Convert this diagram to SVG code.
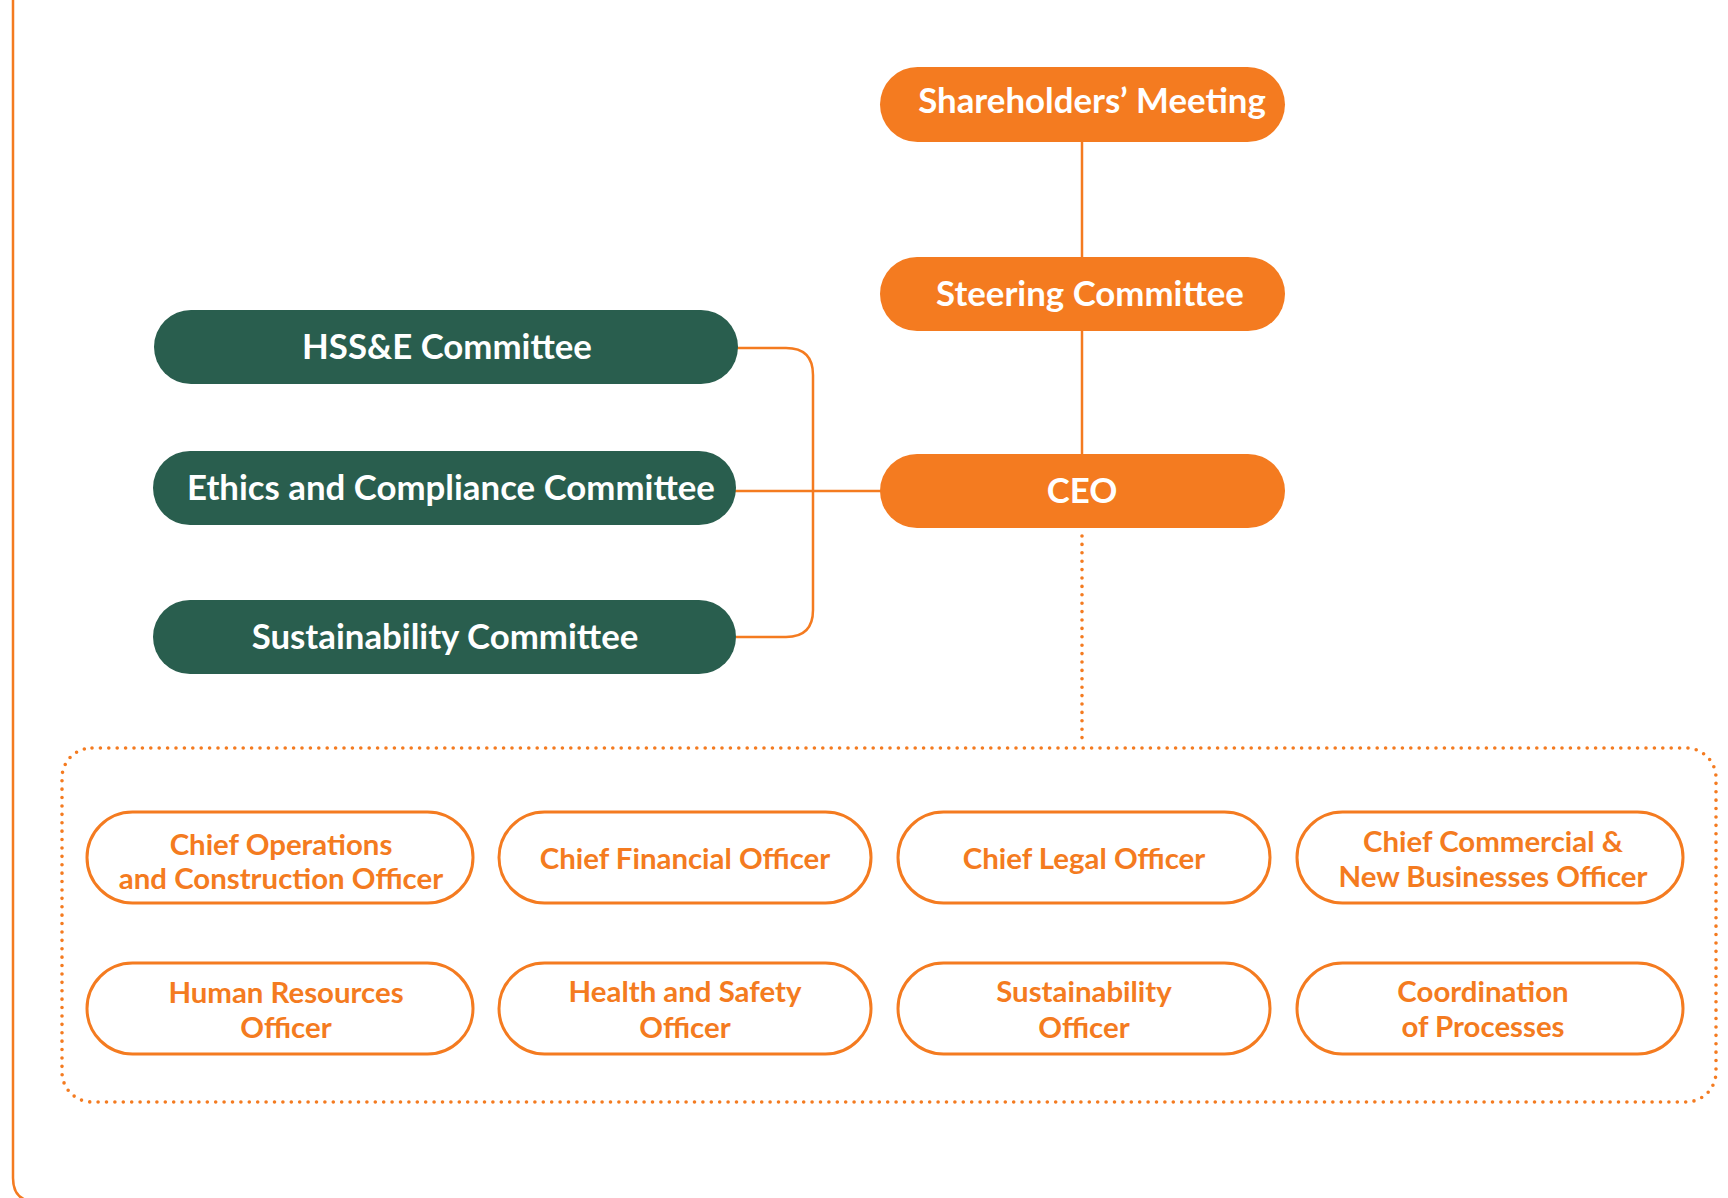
<svg xmlns="http://www.w3.org/2000/svg" width="1728" height="1198" viewBox="0 0 1728 1198">
  <style>
    .top { fill: #f47b20; }
    .com { fill: #295e4e; }
    .off { fill: #ffffff; stroke: #f47b20; stroke-width: 3; }
    .lbl { font-family: Lato, "Liberation Sans", sans-serif; font-weight: 700; text-anchor: middle; }
    .wl { fill: #ffffff; font-size: 34.8px; }
    .ol { fill: #f47b20; font-size: 29.4px; }
    .wire { fill: none; stroke: #f47b20; stroke-width: 2.5; }
    .dots { fill: none; stroke: #f47b20; stroke-width: 3.6; stroke-linecap: round; stroke-dasharray: 0 8.4; }
  </style>

  <!-- outer frame edge -->
  <path class="wire" d="M13,0 V1178 Q13,1201.5 36,1201.5 H1728"/>

  <g id="connectors">
    <line class="wire" x1="1082" y1="141" x2="1082" y2="258"/>
    <line class="wire" x1="1082" y1="331" x2="1082" y2="455"/>
    <path class="wire" d="M737,348 H786 Q813,348 813,375 V610 Q813,637 786,637 H736"/>
    <line class="wire" x1="735" y1="491" x2="881" y2="491"/>
    <line class="dots" x1="1082" y1="536" x2="1082" y2="744"/>
    <rect class="dots" x="62" y="748" width="1654" height="354" rx="30"/>
  </g>

  <g id="shareholders">
    <rect class="top" x="880" y="67" width="405" height="75" rx="37.5"/>
    <text class="lbl wl" x="1092" y="113">Shareholders’ Meeting</text>
  </g>
  <g id="steering">
    <rect class="top" x="880" y="257" width="405" height="74" rx="37"/>
    <text class="lbl wl" x="1090" y="306">Steering Committee</text>
  </g>
  <g id="ceo">
    <rect class="top" x="880" y="454" width="405" height="74" rx="37"/>
    <text class="lbl wl" x="1082" y="503">CEO</text>
  </g>

  <g id="hsse">
    <rect class="com" x="154" y="310" width="584" height="74" rx="37"/>
    <text class="lbl wl" x="447" y="359">HSS&amp;E Committee</text>
  </g>
  <g id="ethics">
    <rect class="com" x="153" y="451" width="583" height="74" rx="37"/>
    <text class="lbl wl" x="451" y="500">Ethics and Compliance Committee</text>
  </g>
  <g id="sustainability-committee">
    <rect class="com" x="153" y="600" width="583" height="74" rx="37"/>
    <text class="lbl wl" x="445" y="649">Sustainability Committee</text>
  </g>

  <g id="coo">
    <rect class="off" x="87" y="812" width="386" height="91" rx="45.5"/>
    <text class="lbl ol" x="281" y="855">Chief Operations</text>
    <text class="lbl ol" x="281" y="889">and Construction Officer</text>
  </g>
  <g id="cfo">
    <rect class="off" x="499" y="812" width="372" height="91" rx="45.5"/>
    <text class="lbl ol" x="685" y="869">Chief Financial Officer</text>
  </g>
  <g id="clo">
    <rect class="off" x="898" y="812" width="372" height="91" rx="45.5"/>
    <text class="lbl ol" x="1084" y="869">Chief Legal Officer</text>
  </g>
  <g id="cco">
    <rect class="off" x="1297" y="812" width="386" height="91" rx="45.5"/>
    <text class="lbl ol" x="1493" y="852">Chief Commercial &amp;</text>
    <text class="lbl ol" x="1493" y="887">New Businesses Officer</text>
  </g>

  <g id="hr">
    <rect class="off" x="87" y="963" width="386" height="91" rx="45.5"/>
    <text class="lbl ol" x="286" y="1003">Human Resources</text>
    <text class="lbl ol" x="286" y="1038">Officer</text>
  </g>
  <g id="hs">
    <rect class="off" x="499" y="963" width="372" height="91" rx="45.5"/>
    <text class="lbl ol" x="685" y="1002">Health and Safety</text>
    <text class="lbl ol" x="685" y="1038">Officer</text>
  </g>
  <g id="so">
    <rect class="off" x="898" y="963" width="372" height="91" rx="45.5"/>
    <text class="lbl ol" x="1084" y="1002">Sustainability</text>
    <text class="lbl ol" x="1084" y="1038">Officer</text>
  </g>
  <g id="cop">
    <rect class="off" x="1297" y="963" width="386" height="91" rx="45.5"/>
    <text class="lbl ol" x="1483" y="1002">Coordination</text>
    <text class="lbl ol" x="1483" y="1037">of Processes</text>
  </g>
</svg>
